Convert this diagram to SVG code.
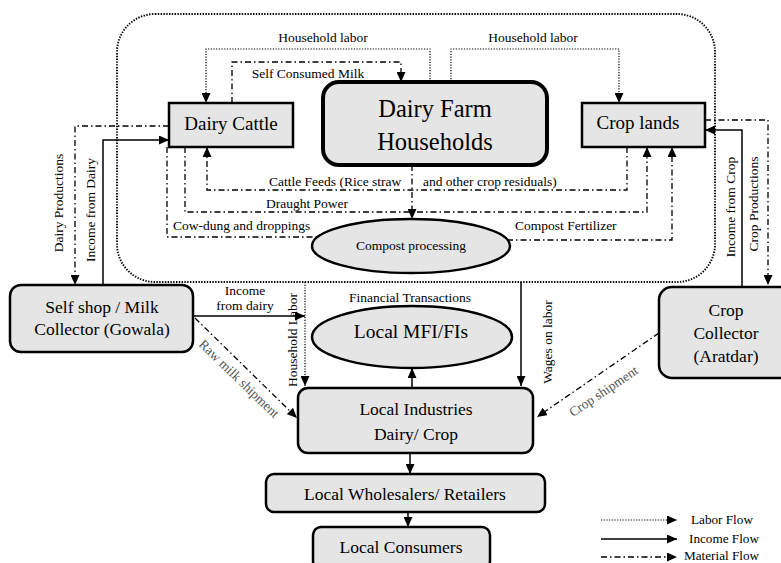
<svg xmlns="http://www.w3.org/2000/svg" width="781" height="563" viewBox="0 0 781 563">
<style>
.box{fill:#e5e5e5;stroke:#000;stroke-width:2.5}
.n{font-family:"Liberation Serif","Times New Roman",serif;font-size:17.5px;fill:#000;text-anchor:middle}
.l{font-family:"Liberation Serif","Times New Roman",serif;font-size:13.5px;fill:#000}
.g{fill:#555}
.c{fill:none;stroke:#000}
.dot{stroke-width:1.2;stroke-dasharray:1.2 1.5}
.dd{stroke-width:1.3;stroke-dasharray:6 3 1.5 3}
.sol{stroke-width:1.5}
.bnd{fill:none;stroke:#000;stroke-width:1.9;stroke-dasharray:1.4 1.4}
</style>
<defs>
<marker id="ah" markerUnits="userSpaceOnUse" markerWidth="10" markerHeight="9" refX="10" refY="4.5" orient="auto"><path d="M0,0 L10,4.5 L0,9 z" fill="#000"/></marker>
</defs>
<rect class="bnd" x="117" y="14" width="598" height="268" rx="38"/>
<g id="connectors">
<path class="c dot" d="M430,82 V49 H206 V103" marker-end="url(#ah)"/>
<path class="c dot" d="M451,82 V49 H619 V103" marker-end="url(#ah)"/>
<path class="c dd" d="M232,103 V62 H401 V82" marker-end="url(#ah)"/>
<path class="c dd" d="M627,147 V190 H207 V147" marker-end="url(#ah)"/>
<path class="c dd" d="M185,147 V212 H647 V147" marker-end="url(#ah)"/>
<path class="c dd" d="M167,147 V237 H318"/>
<path class="c dd" d="M412,165 V219" marker-end="url(#ah)"/>
<path class="c dd" d="M507,240 H672 V147" marker-end="url(#ah)"/>
<path class="c dd" d="M169,126 H75 V285" marker-end="url(#ah)"/>
<path class="c sol" d="M103,285 V140 H169" marker-end="url(#ah)"/>
<path class="c dd" d="M705,120 H768 V285" marker-end="url(#ah)"/>
<path class="c sol" d="M742,287 V130 H705" marker-end="url(#ah)"/>
<path class="c sol" d="M193,316 H305" marker-end="url(#ah)"/>
<path class="c dd" d="M195,318 L297,418" marker-end="url(#ah)"/>
<path class="c dot" d="M305,282 V386" marker-end="url(#ah)"/>
<path class="c sol" d="M521,282 V386" marker-end="url(#ah)"/>
<path class="c dd" d="M659,333 L537,417" marker-end="url(#ah)"/>
<path class="c sol" d="M412,388 V368" marker-end="url(#ah)"/>
<path class="c sol" d="M410,453 V474" marker-end="url(#ah)"/>
<path class="c sol" d="M408,512 V527" marker-end="url(#ah)"/>
</g>
<g id="labels">
<text class="l" x="323" y="42" text-anchor="middle">Household labor</text>
<text class="l" x="533" y="42" text-anchor="middle">Household labor</text>
<text class="l" x="308" y="78" text-anchor="middle">Self Consumed Milk</text>
<text class="l" x="269" y="186">Cattle Feeds (Rice straw</text>
<text class="l" x="423" y="186">and other crop residuals)</text>
<text class="l" x="266" y="208">Draught Power</text>
<text class="l" x="173" y="230">Cow-dung and droppings</text>
<text class="l" x="515" y="230">Compost Fertilizer</text>
<text class="l" x="245" y="295" text-anchor="middle">Income</text>
<text class="l" x="245" y="310" text-anchor="middle">from dairy</text>
<text class="l" x="410" y="302" text-anchor="middle">Financial Transactions</text>
<text class="l" text-anchor="middle" transform="translate(63,203) rotate(-90)">Dairy Productions</text>
<text class="l" text-anchor="middle" transform="translate(95,210) rotate(-90)">Income from Dairy</text>
<text class="l" text-anchor="middle" transform="translate(735,207) rotate(-90)">Income from Crop</text>
<text class="l" text-anchor="middle" transform="translate(758,204) rotate(-90)">Crop Productions</text>
<text class="l" text-anchor="middle" transform="translate(297,340) rotate(-90)">Household Labor</text>
<text class="l" text-anchor="middle" transform="translate(552,342) rotate(-90)">Wages on labor</text>
<text class="l g" text-anchor="middle" transform="translate(236,382) rotate(44)">Raw milk shipment</text>
<text class="l g" text-anchor="middle" transform="translate(606,395) rotate(-34)">Crop shipment</text>
</g>
<g id="dairy-cattle"><rect class="box" x="169" y="103" width="124" height="44"/><text class="n" x="231" y="130" style="font-size:19px">Dairy Cattle</text></g>
<g id="households"><rect class="box" x="323" y="82" width="224" height="83" rx="16" style="stroke-width:4"/><text class="n" x="435" y="117" style="font-size:24.5px">Dairy Farm</text><text class="n" x="435" y="150" style="font-size:24.5px">Households</text></g>
<g id="crop-lands"><rect class="box" x="582" y="103" width="123" height="44"/><text class="n" x="638" y="129" style="font-size:19px">Crop lands</text></g>
<g id="compost"><ellipse class="box" cx="411" cy="246" rx="99" ry="27"/><text class="n" x="411" y="250" style="font-size:13.5px">Compost processing</text></g>
<g id="self-shop"><rect class="box" x="10" y="285" width="183" height="67" rx="11"/><text class="n" x="102" y="313">Self shop / Milk</text><text class="n" x="102" y="335">Collector (Gowala)</text></g>
<g id="mfi"><ellipse class="box" cx="412" cy="337" rx="100" ry="31"/><text class="n" x="411" y="338" style="font-size:19.5px">Local MFI/FIs</text></g>
<g id="local-industries"><rect class="box" x="298" y="388" width="235" height="65" rx="10"/><text class="n" x="416" y="415">Local Industries</text><text class="n" x="416" y="440">Dairy/ Crop</text></g>
<g id="wholesalers"><rect class="box" x="266" y="474" width="279" height="38" rx="8"/><text class="n" x="405" y="500">Local Wholesalers/ Retailers</text></g>
<g id="consumers"><rect class="box" x="313" y="527" width="177" height="42" rx="8"/><text class="n" x="401" y="553">Local Consumers</text></g>
<g id="crop-collector"><rect class="box" x="659" y="287" width="135" height="91" rx="13"/><text class="n" x="726" y="316">Crop</text><text class="n" x="726" y="339">Collector</text><text class="n" x="726" y="362">(Aratdar)</text></g>
<g id="legend">
<path class="c dot" d="M601,520 H677" marker-end="url(#ah)"/>
<path class="c sol" d="M601,539 H677" marker-end="url(#ah)"/>
<path class="c dd" d="M601,557 H677" marker-end="url(#ah)"/>
<text class="l" x="691" y="524" style="font-size:13.2px">Labor Flow</text>
<text class="l" x="689" y="543" style="font-size:13.2px">Income Flow</text>
<text class="l" x="684" y="560" style="font-size:13.2px">Material Flow</text>
</g>
</svg>
